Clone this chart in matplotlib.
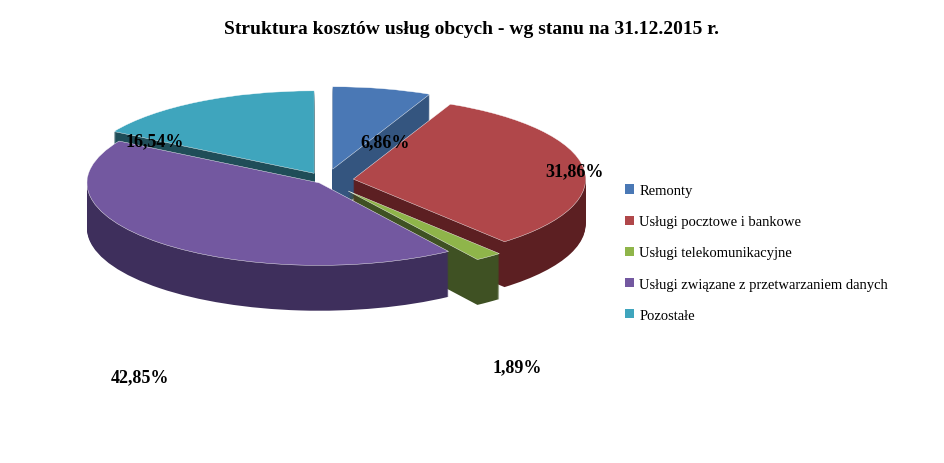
import matplotlib
matplotlib.use("Agg")
import matplotlib.pyplot as plt
from matplotlib.patches import Patch
import numpy as np

categories = ["Remonty", "Usługi pocztowe i bankowe", "Usługi telekomunikacyjne",
              "Usługi związane z przetwarzaniem danych", "Pozostałe"]
values = [6.86, 31.86, 1.89, 42.85, 16.54]
labels = ["6,86%", "31,86%", "1,89%", "42,85%", "16,54%"]
top_colors = ["#4A78B5", "#B0474A", "#8FB54A", "#7358A0", "#3FA5BD"]
side_colors = ["#34557F", "#5C1F22", "#3F5123", "#3E2F5C", "#1F4D58"]
explode = [0.14, 0.12, 0.16, 0.04, 0.10]

plt.rcParams['font.family'] = ['Liberation Serif', 'DejaVu Serif']
fig = plt.figure(figsize=(9.44, 4.64), dpi=100)
ax = fig.add_axes([0.03, 0.12, 0.63, 0.80])

depth = 0.55
for k in np.linspace(depth, 0.01, 45):
    ax.pie(values, startangle=90, counterclock=False, explode=explode,
           colors=side_colors, center=(0, -k), radius=1,
           wedgeprops=dict(linewidth=0))
ax.pie(values, startangle=90, counterclock=False, explode=explode,
       colors=top_colors, center=(0, 0), radius=1,
       wedgeprops=dict(linewidth=0.3, edgecolor="white"))
ax.set_aspect('auto')
ax.set_xlim(-1.28, 1.28)
ax.set_ylim(-2.75, 1.75)
ax.axis('off')

pos = [(385, 143), (575, 172), (517, 368), (140, 378), (155, 142)]
for (x, y), t in zip(pos, labels):
    fig.text(x / 944, 1 - y / 464, t, ha='center', va='center',
             fontsize=13, fontweight='bold')

fig.text(0.5, 1 - 30 / 464, "Struktura kosztów usług obcych - wg stanu na 31.12.2015 r.",
         ha='center', va='center', fontsize=14, fontweight='bold')

handles = [Patch(facecolor=c) for c in top_colors]
fig.legend(handles, categories, loc='center left', bbox_to_anchor=(0.648, 1 - 254 / 464),
           frameon=False, fontsize=10.5, handlelength=0.6, handleheight=0.6,
           labelspacing=1.25, handletextpad=0.4)

fig.savefig("out.png", dpi=100)
